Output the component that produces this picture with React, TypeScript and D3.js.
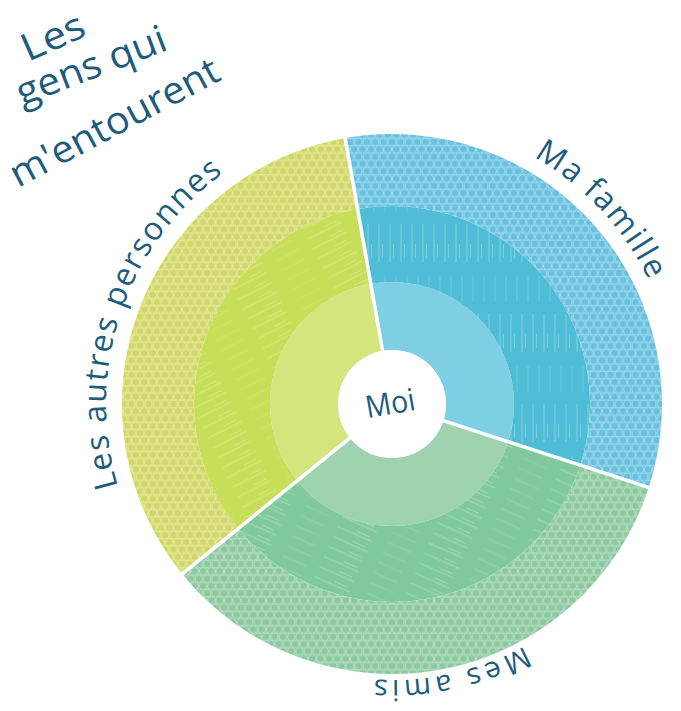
import * as d3 from "d3";

// sectors of the diagram, clockwise from the top
const categories = ["Ma famille", "Mes amis", "Les autres personnes"];
const shares = [118, 123, 119];
// rings from the centre outwards
const rings = ["proche", "moyen", "éloigné"];
const ringRadii = [54, 122, 198, 270];
const titleLines = ["Les", "gens qui", "m'entourent"];
const centerLabel = "Moi";

const fills: Record<string, string[]> = {
  "Ma famille": ["#7ecfe3", "#50bdd6", "#66c0de"],
  "Mes amis": ["#9fd3b0", "#80c99d", "#8cc9a1"],
  "Les autres personnes": ["#d4e57e", "#c7de58", "#cfd768"],
};
const cellStroke: Record<string, string> = {
  "Ma famille": "#9fd9ee",
  "Mes amis": "#b6dec2",
  "Les autres personnes": "#e6e89c",
};
const streakAngle = [90, 24, -27];

const ink = "#1e5c7c";
const font = "'Open Sans', 'DejaVu Sans', sans-serif";
const deg = Math.PI / 180;

function arcPath(r: number, a0: number, a1: number) {
  const x0 = r * Math.sin(a0), y0 = -r * Math.cos(a0);
  const x1 = r * Math.sin(a1), y1 = -r * Math.cos(a1);
  const large = a1 - a0 > Math.PI ? 1 : 0;
  return `M${x0},${y0} A${r},${r} 0 ${large} 1 ${x1},${y1}`;
}

export default function App() {
  const width = 681;
  const height = 711;
  const cx = 392;
  const cy = 404;

  const pie = d3
    .pie<number>()
    .sort(null)
    .value((d) => d)
    .startAngle(-10 * deg)
    .endAngle(350 * deg);
  const slices = pie(shares);
  const arc = d3.arc<any>();

  const labelR = [285, 276, 286];
  const labelLengths = [171, 156, 352];
  const labelSize = [32, 29, 32];
  const hw = 8.4;
  const hh = hw * Math.sqrt(3);

  return (
    <svg
      width={width}
      height={height}
      style={{ position: "absolute", left: 0, top: 0, background: "#fff" }}
    >
      <defs>
        {categories.map((c, i) => (
          <g key={c}>
            <pattern
              id={`hex-${i}`}
              patternUnits="userSpaceOnUse"
              width={hw}
              height={hh}
            >
              <rect width={hw} height={hh} fill={fills[c][2]} />
              {[
                [0, 0],
                [hw, 0],
                [hw / 2, hh / 2],
                [0, hh],
                [hw, hh],
              ].map(([x, y], k) => (
                <circle
                  key={k}
                  cx={x}
                  cy={y}
                  r={hw / 2 - 0.5}
                  fill="none"
                  stroke={cellStroke[c]}
                  strokeWidth={1.1}
                />
              ))}
            </pattern>
            <pattern
              id={`streak-${i}`}
              patternUnits="userSpaceOnUse"
              width={90}
              height={11}
              patternTransform={`rotate(${streakAngle[i]})`}
            >
              <rect width={90} height={11} fill={fills[c][1]} />
              <line x1={0} y1={2} x2={38} y2={2} stroke="#fff" strokeOpacity={0.28} strokeWidth={1} />
              <line x1={52} y1={7} x2={78} y2={7} stroke="#fff" strokeOpacity={0.2} strokeWidth={0.8} />
              <line x1={20} y1={9.5} x2={34} y2={9.5} stroke="#fff" strokeOpacity={0.35} strokeWidth={0.7} />
            </pattern>
          </g>
        ))}
      </defs>

      <g transform={`translate(${cx},${cy})`}>
        {slices.map((s, i) =>
          rings.map((ring, j) => (
            <path
              key={`${categories[i]}-${ring}`}
              d={
                arc({
                  innerRadius: ringRadii[j],
                  outerRadius: ringRadii[j + 1],
                  startAngle: s.startAngle,
                  endAngle: s.endAngle,
                }) || ""
              }
              fill={
                j === 0
                  ? fills[categories[i]][0]
                  : j === 1
                  ? `url(#streak-${i})`
                  : `url(#hex-${i})`
              }
            />
          ))
        )}

        {slices.map((s, i) => (
          <line
            key={`sep-${i}`}
            x1={ringRadii[0] * Math.sin(s.startAngle)}
            y1={-ringRadii[0] * Math.cos(s.startAngle)}
            x2={(ringRadii[3] + 3) * Math.sin(s.startAngle)}
            y2={-(ringRadii[3] + 3) * Math.cos(s.startAngle)}
            stroke="#fff"
            strokeWidth={3.5}
          />
        ))}

        <circle r={ringRadii[0]} fill="#fff" />
        <text
          transform="translate(0,10) rotate(-10)"
          textAnchor="middle"
          fontFamily={font}
          fontSize={31}
          fontWeight={500}
          fill={ink}
          textLength={50}
          lengthAdjust="spacingAndGlyphs"
        >
          {centerLabel}
        </text>

        {slices.map((s, i) => {
          const mid = (s.startAngle + s.endAngle) / 2 - 2 * deg;
          const half = labelLengths[i] / labelR[i] / 2;
          return (
            <g key={`lab-${i}`}>
              <path
                id={`lab-path-${i}`}
                d={arcPath(labelR[i], mid - half, mid + half)}
                fill="none"
              />
              <text
                fontFamily={font}
                fontSize={labelSize[i]}
                fontWeight={500}
                fill={ink}
              >
                <textPath
                  href={`#lab-path-${i}`}
                  textLength={labelLengths[i]}
                  lengthAdjust="spacing"
                >
                  {categories[i]}
                </textPath>
              </text>
            </g>
          );
        })}
      </g>

      {titleLines.map((t, i) => {
        const pos = [
          [28, 62, -24, 66],
          [22, 106, -21, 158],
          [18, 188, -28, 232],
        ][i];
        return (
          <text
            key={t}
            transform={`translate(${pos[0]},${pos[1]}) rotate(${pos[2]})`}
            fontFamily={font}
            fontSize={38}
            fontWeight={500}
            fill={ink}
            textLength={pos[3]}
            lengthAdjust="spacingAndGlyphs"
          >
            {t}
          </text>
        );
      })}
    </svg>
  );
}
